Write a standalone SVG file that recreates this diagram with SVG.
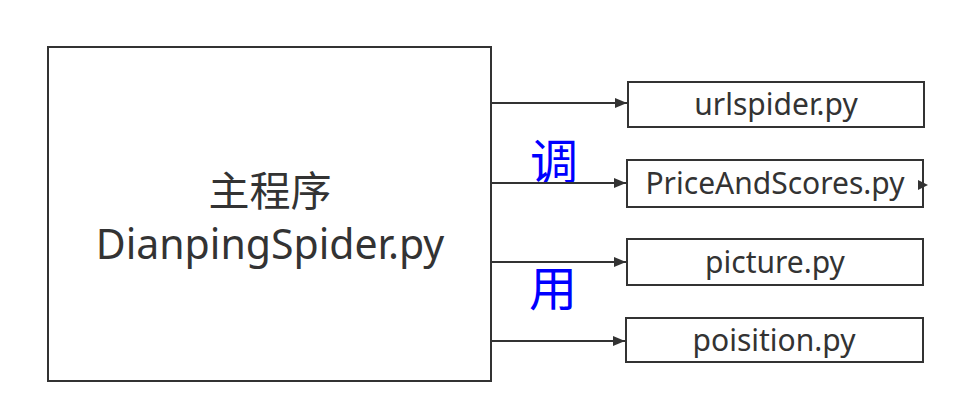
<svg xmlns="http://www.w3.org/2000/svg" width="957" height="414" viewBox="0 0 957 414">
<style>
.box{fill:#fff;stroke:#333;stroke-width:2}
.t{font-family:"Noto Sans","Noto Sans CJK SC",sans-serif;fill:#333;text-anchor:middle}
.lbl{font-size:30px}
.main{font-size:41px}
.blue{font-family:"Noto Sans CJK SC",sans-serif;fill:#0000ff;font-size:48px;text-anchor:middle}
.c{stroke:#333;stroke-width:2;fill:none}
</style>
<defs>
<marker id="ah" markerWidth="12" markerHeight="10" refX="12" refY="5" orient="auto" markerUnits="userSpaceOnUse">
<path d="M0,0 L12,5 L0,10 Z" fill="#333"/>
</marker>
</defs>
<rect width="957" height="414" fill="#fff"/>
<g id="main">
<rect class="box" x="48" y="47" width="443" height="334"/>
<text class="t main" x="270" y="206">主程序</text>
<text class="t main" x="270" y="259">DianpingSpider.py</text>
</g>
<g id="n1">
<rect class="box" x="628" y="82" width="296" height="45"/>
<text class="t lbl" x="776" y="115">urlspider.py</text>
</g>
<g id="n2">
<rect class="box" x="627" y="160" width="296" height="47"/>
<text class="t lbl" x="775" y="194">PriceAndScores.py</text>
<path d="M918,180 L928,185 L918,190 Z" fill="#333"/>
</g>
<g id="n3">
<rect class="box" x="627" y="239" width="296" height="46"/>
<text class="t lbl" x="775" y="273">picture.py</text>
</g>
<g id="n4">
<rect class="box" x="626" y="318" width="297" height="44"/>
<text class="t lbl" x="774" y="351">poisition.py</text>
</g>
<g id="labels">
<text class="blue" x="554" y="179">调</text>
<text class="blue" x="553" y="306">用</text>
</g>
<g id="connectors">
<line class="c" x1="491" y1="103" x2="627" y2="103" marker-end="url(#ah)"/>
<line class="c" x1="491" y1="183" x2="626" y2="183" marker-end="url(#ah)"/>
<line class="c" x1="491" y1="262" x2="626" y2="262" marker-end="url(#ah)"/>
<line class="c" x1="491" y1="341" x2="625" y2="341" marker-end="url(#ah)"/>
</g>
</svg>
